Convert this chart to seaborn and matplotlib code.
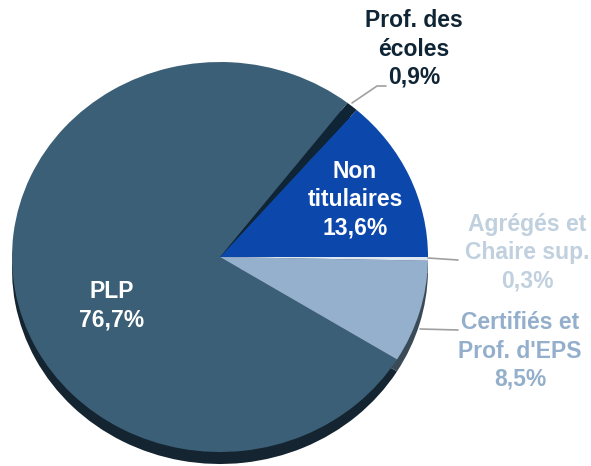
import matplotlib.pyplot as plt
import seaborn as sns
from matplotlib.lines import Line2D

# Data (counter-clockwise from 3 o'clock)
categories = ["Non\ntitulaires", "Prof. des\nécoles", "PLP", "Certifiés et\nProf. d'EPS", "Agrégés et\nChaire sup."]
shares = [13.6, 0.9, 76.7, 8.5, 0.3]
pct_labels = ["13,6%", "0,9%", "76,7%", "8,5%", "0,3%"]

top_colors = ["#0c48ac", "#0f2535", "#3b5f76", "#95b0cc", "#dfe8f0"]
side_colors = ["#0a2f70", "#0b1a25", "#142430", "#3b4a57", "#5a6a78"]

sns.set_theme(style="white")
plt.rcParams['font.family'] = ['Liberation Sans', 'DejaVu Sans']

W, H = 591, 466
fig = plt.figure(figsize=(W / 100, H / 100), dpi=100)
ax = fig.add_axes([0, 0, 1, 1])

# ellipse radii in pixels (slightly flattened pie)
rx, ry = 208, 195
cx_px, cy_px = 220, 257
depth = 12
cx, cy = cx_px / rx, (H - cy_px) / ry

# 3D side
ax.pie(shares, colors=side_colors, startangle=0, counterclock=True, radius=1,
       center=(cx, cy - depth / ry), wedgeprops=dict(linewidth=0))
# top face
ax.pie(shares, colors=top_colors, startangle=0, counterclock=True, radius=1,
       center=(cx, cy), wedgeprops=dict(linewidth=0))
ax.set_aspect('auto')
ax.set_xlim(0, W / rx)
ax.set_ylim(0, H / ry)
ax.axis('off')


def fx(px):
    return px / W


def fy(py):
    return 1 - py / H


label_specs = [
    # (index, x_px, y_px, colour)
    (0, 355, 200, "white"),
    (1, 414, 49, "#0f2535"),
    (2, 112, 306, "white"),
    (3, 520, 351, "#93afcb"),
    (4, 527, 253, "#c0d0de"),
]
for i, x, y, c in label_specs:
    fig.text(fx(x), fy(y), f"{categories[i]}\n{pct_labels[i]}", ha="center", va="center",
             color=c, fontsize=16.5, fontweight="bold", linespacing=1.3)

leaders = [
    [(352, 103), (377, 86), (386, 86)],
    [(428, 258), (458, 260)],
    [(420, 329), (458, 330)],
]
for pts in leaders:
    xs = [fx(p[0]) for p in pts]
    ys = [fy(p[1]) for p in pts]
    fig.add_artist(Line2D(xs, ys, color="#a0a0a0", linewidth=1.2))

fig.savefig("out.png", dpi=100)
